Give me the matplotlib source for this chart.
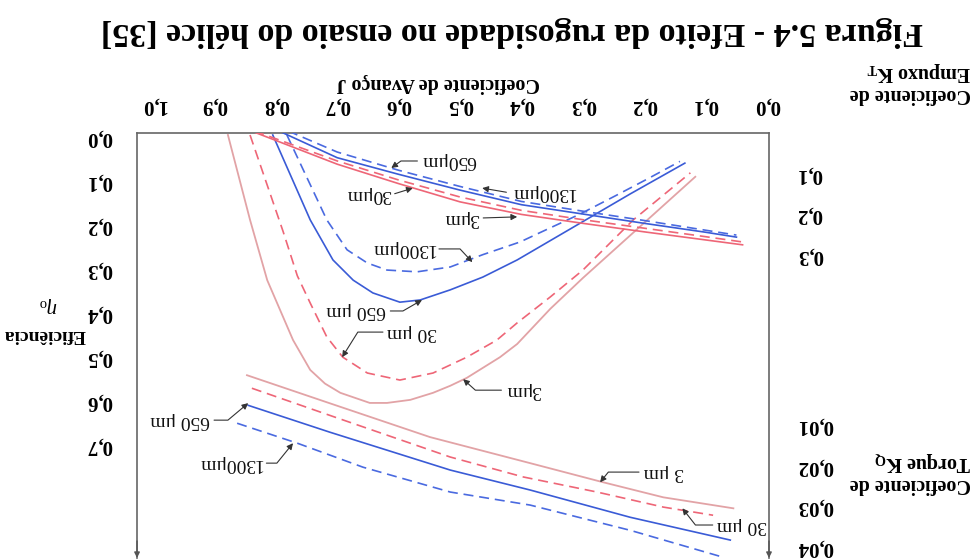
import matplotlib
matplotlib.use("Agg")
import matplotlib.pyplot as plt

plt.rcParams["font.family"] = ["Liberation Serif", "DejaVu Serif"]
plt.rcParams["mathtext.fontset"] = "custom"
plt.rcParams["mathtext.rm"] = "Liberation Serif"
plt.rcParams["mathtext.it"] = "Liberation Serif:italic"
plt.rcParams["mathtext.bf"] = "Liberation Serif:bold"

# Coeficiente de empuxo KT em funcao de J, para cada rugosidade
kt_j_3 = [0.84, 0.70, 0.60, 0.50, 0.40, 0.30, 0.20, 0.10, 0.04]
kt_3 = [0.000, 0.082, 0.130, 0.175, 0.206, 0.228, 0.249, 0.269, 0.281]
kt_j_30 = [0.835, 0.70, 0.60, 0.50, 0.40, 0.30, 0.20, 0.10, 0.04]
kt_30 = [0.000, 0.074, 0.121, 0.163, 0.196, 0.219, 0.240, 0.261, 0.274]
kt_j_650 = [0.795, 0.70, 0.60, 0.50, 0.40, 0.30, 0.20, 0.10, 0.05]
kt_650 = [0.000, 0.066, 0.107, 0.146, 0.182, 0.205, 0.228, 0.250, 0.262]
kt_j_1300 = [0.78, 0.70, 0.60, 0.50, 0.40, 0.30, 0.20, 0.10, 0.05]
kt_1300 = [0.000, 0.052, 0.097, 0.137, 0.174, 0.198, 0.221, 0.245, 0.257]

# Eficiencia
eta_j_3 = [0.878, 0.842, 0.814, 0.772, 0.744, 0.720, 0.695, 0.647, 0.619, 0.581, 0.544,
           0.516, 0.489, 0.435, 0.407, 0.353, 0.300, 0.218, 0.117]
eta_3 = [0.000, 0.193, 0.330, 0.466, 0.534, 0.565, 0.586, 0.609, 0.609, 0.602, 0.586,
         0.570, 0.552, 0.505, 0.475, 0.395, 0.325, 0.222, 0.095]
eta_j_30 = [0.842, 0.788, 0.765, 0.744, 0.717, 0.691, 0.651, 0.598, 0.544, 0.489,
            0.440, 0.407, 0.353, 0.300, 0.218, 0.125]
eta_30 = [0.000, 0.220, 0.320, 0.382, 0.459, 0.505, 0.541, 0.557, 0.541, 0.505,
          0.466, 0.427, 0.368, 0.307, 0.193, 0.086]
eta_j_650 = [0.805, 0.744, 0.707, 0.674, 0.642, 0.598, 0.565, 0.516, 0.463, 0.407,
             0.326, 0.223, 0.134]
eta_650 = [0.000, 0.193, 0.284, 0.330, 0.359, 0.380, 0.375, 0.352, 0.323, 0.284,
           0.218, 0.134, 0.064]
eta_j_1300 = [0.782, 0.717, 0.684, 0.651, 0.619, 0.570, 0.516, 0.463, 0.402, 0.370,
              0.305, 0.244, 0.195, 0.142]
eta_1300 = [0.000, 0.193, 0.261, 0.291, 0.307, 0.311, 0.300, 0.272, 0.243, 0.222,
            0.180, 0.136, 0.100, 0.060]

# Coeficiente de torque KQ
kq_j_3 = [0.847, 0.712, 0.549, 0.386, 0.267, 0.169, 0.055]
kq_3 = [-0.0017, 0.0052, 0.0135, 0.0199, 0.0246, 0.0283, 0.0310]
kq_j_30 = [0.839, 0.700, 0.516, 0.397, 0.277, 0.169, 0.088]
kq_30 = [0.0015, 0.0088, 0.0184, 0.0233, 0.0270, 0.0307, 0.0327]
kq_j_650 = [0.845, 0.712, 0.516, 0.386, 0.223, 0.060]
kq_650 = [0.0057, 0.0123, 0.0216, 0.0265, 0.0332, 0.0388]
kq_j_1300 = [0.863, 0.765, 0.658, 0.516, 0.386, 0.223, 0.072]
kq_1300 = [0.0101, 0.0150, 0.0209, 0.0270, 0.0302, 0.0364, 0.0430]

j_ticks = [0.0, 0.1, 0.2, 0.3, 0.4, 0.5, 0.6, 0.7, 0.8, 0.9, 1.0]
eta_ticks = [0.0, 0.1, 0.2, 0.3, 0.4, 0.5, 0.6, 0.7]
kt_ticks = [0.1, 0.2, 0.3]
kq_ticks = [0.01, 0.02, 0.03, 0.04]

# rotulos das curvas: texto, ponta da seta, posicao do texto, lado de saida, angulo
rot_kt = [("650μm", (0.612, 0.0914), (0.518, 0.0741), 0, 36),
          ("30μm", (0.577, 0.141), (0.650, 0.158), 1, None),
          ("1300μm", (0.464, 0.141), (0.365, 0.153), 0, None),
          ("3μm", (0.407, 0.212), (0.498, 0.215), 1, None)]
rot_eta = [("1300μm", (0.480, 0.289), (0.594, 0.259), 1, 133),
           ("650 μm", (0.562, 0.375), (0.669, 0.400), 1, 30),
           ("30 μm", (0.692, 0.505), (0.578, 0.448), 0, 58),
           ("3μm", (0.495, 0.555), (0.397, 0.580), 0, 138)]
rot_kq = [("650 μm", (0.845, 0.00516), (0.956, 0.00934), 1, 40),
          ("1300μm", (0.772, 0.0150), (0.875, 0.0199), 1, 51),
          ("3 μm", (0.272, 0.0246), (0.169, 0.0221), 0, 51),
          ("30 μm", (0.138, 0.0310), (0.041, 0.0351), 0, 128)]

VERMELHO = "#ee6677"
ROSA = "#e2a3a6"
AZUL = "#3a5bd6"
AZUL2 = "#4a6ae0"
TRACO = (6, 3.5)


def virgula(v, casas):
    return f"{v:.{casas}f}".replace(".", ",")


def rotulo(eixo, texto, ponta, pos, lado, angulo):
    estilo = "arc3" if angulo is None else f"angle,angleA=0,angleB={angulo},rad=0"
    eixo.annotate(texto, xy=ponta, xytext=pos, rotation=180, ha="center", va="center",
                  fontsize=14, color="#111111",
                  arrowprops=dict(arrowstyle="-|>", color="#333333", lw=0.8,
                                  shrinkA=1, shrinkB=0, relpos=(lado, 0.5),
                                  connectionstyle=estilo, mutation_scale=9))


fig = plt.figure(figsize=(9.76, 5.6), dpi=100)
ax = fig.add_axes([0.1404, 0.0036, 0.6475, 0.7589])
ax_kt = ax.twinx()
ax_kq = ax.twinx()

# figura de cabeca para baixo: eixos invertidos e textos girados 180 graus
ax.set_xlim(1.026, -0.003)
ax.set_ylim(0.9614, -0.0045)
ax_kt.set_ylim(1.054, 0.005)
ax_kq.set_ylim(0.0432, -0.0612)

ax.plot(eta_j_3, eta_3, color=ROSA, lw=1.3)
ax.plot(eta_j_30, eta_30, color=VERMELHO, lw=1.2, dashes=TRACO)
ax.plot(eta_j_650, eta_650, color=AZUL, lw=1.2)
ax.plot(eta_j_1300, eta_1300, color=AZUL2, lw=1.2, dashes=TRACO)

ax_kt.plot(kt_j_3, kt_3, color=VERMELHO, lw=1.2)
ax_kt.plot(kt_j_30, kt_30, color=VERMELHO, lw=1.2, dashes=TRACO)
ax_kt.plot(kt_j_650, kt_650, color=AZUL, lw=1.2)
ax_kt.plot(kt_j_1300, kt_1300, color=AZUL2, lw=1.2, dashes=TRACO)

ax_kq.plot(kq_j_3, kq_3, color=ROSA, lw=1.3)
ax_kq.plot(kq_j_30, kq_30, color=VERMELHO, lw=1.2, dashes=TRACO)
ax_kq.plot(kq_j_650, kq_650, color=AZUL, lw=1.2)
ax_kq.plot(kq_j_1300, kq_1300, color=AZUL2, lw=1.2, dashes=TRACO)

for r in rot_kt:
    rotulo(ax_kt, *r)
for r in rot_eta:
    rotulo(ax, *r)
for r in rot_kq:
    rotulo(ax_kq, *r)

ax.xaxis.tick_top()
ax.set_xticks(j_ticks)
ax.set_xticklabels([virgula(v, 1) for v in j_ticks], rotation=180,
                   fontsize=15, fontweight="bold")
ax.set_yticks(eta_ticks)
ax.set_yticklabels([virgula(v, 1) for v in eta_ticks], rotation=180,
                   fontsize=15, fontweight="bold")
ax.tick_params(axis="x", length=0, pad=13)
ax.tick_params(axis="y", length=0, pad=18)

ax_kt.set_yticks(kt_ticks)
ax_kt.set_yticklabels([virgula(v, 1) for v in kt_ticks], rotation=180,
                      fontsize=15, fontweight="bold")
ax_kq.set_yticks(kq_ticks)
ax_kq.set_yticklabels([virgula(v, 2) for v in kq_ticks], rotation=180,
                      fontsize=15, fontweight="bold")
for a in (ax_kt, ax_kq):
    a.tick_params(axis="y", length=0, pad=20)
    for s in a.spines.values():
        s.set_visible(False)

ax.spines["bottom"].set_visible(False)
for lado in ("top", "left", "right"):
    ax.spines[lado].set_color("#666666")
    ax.spines[lado].set_linewidth(1.2)
for x in (0, 1):
    ax.annotate("", xy=(x, 0), xytext=(x, 0.04), xycoords="axes fraction",
                arrowprops=dict(arrowstyle="-|>", color="#555555", lw=1.0,
                                mutation_scale=8, shrinkA=0, shrinkB=0))

fig.text(0.5246, 0.9446, "Figura 5.4 - Efeito da rugosidade no ensaio do hélice [35]",
         rotation=180, ha="center", va="center", fontsize=24.5, fontweight="bold")
fig.text(0.4488, 0.8518, "Coeficiente de Avanço J", rotation=180,
         ha="center", va="center", fontsize=14.5, fontweight="bold")
fig.text(0.9324, 0.8536, "Coeficiente de\nEmpuxo K$_\\mathbf{T}$", rotation=180,
         ha="center", va="center", multialignment="left", linespacing=1.1,
         fontsize=14.5, fontweight="bold")
fig.text(0.9324, 0.1571, "Coeficiente de\nTorque K$_\\mathbf{Q}$", rotation=180,
         ha="center", va="center", multialignment="left", linespacing=1.1,
         fontsize=14.5, fontweight="bold")
fig.text(0.0461, 0.4018, "Eficiência", rotation=180, ha="center", va="center",
         fontsize=14, fontweight="bold")
fig.text(0.0492, 0.4554, "$\\eta_\\mathrm{o}$", rotation=180, ha="center", va="center",
         fontsize=15)

fig.savefig("out.png", dpi=100)
